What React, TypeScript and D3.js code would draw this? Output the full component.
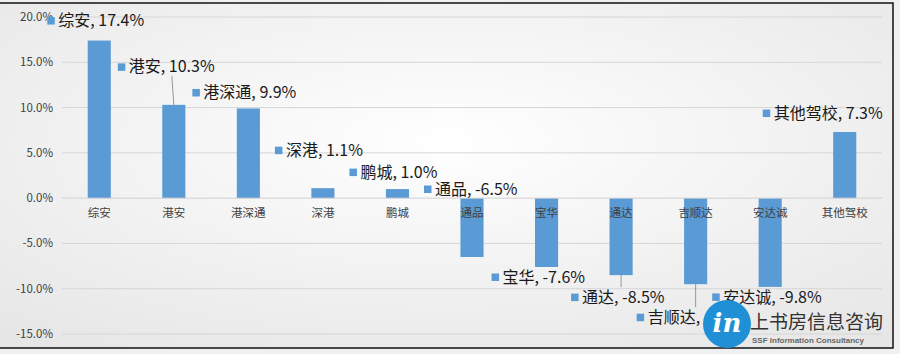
import React from "react";
import * as d3 from "d3";

const categories = ["综安", "港安", "港深通", "深港", "鹏城", "通品", "宝华", "通达", "吉顺达", "安达诚", "其他驾校"];
const values = [17.4, 10.3, 9.9, 1.1, 1.0, -6.5, -7.6, -8.5, -9.5, -9.8, 7.3];
const yTicks = [20, 15, 10, 5, 0, -5, -10, -15];

// label anchor offsets from the bar end (px), as Excel placed them by hand
const labelOffsets: [number, number][] = [
  [-52, -20], [-56, -38], [-56, -16], [-48, -38], [-48, -17], [-48, -68], [-55, 10], [-50, 22], [-59, 33], [-58, 10], [-82, -19],
];
// leader lines drawn from bar end towards the label
const leaders = [false, true, false, false, false, false, false, true, true, false, false];

const W = 900, H = 354;
const margin = { top: 17, right: 18, bottom: 20, left: 62 };

export default function App() {
  const x = d3.scaleBand<string>().domain(categories).range([margin.left, W - margin.right]).paddingInner(0.69).paddingOuter(0.345);
  const y = d3.scaleLinear().domain([-15, 20]).range([334, 17]);
  const fmt = (v: number) => `${v.toFixed(1)}%`;
  const blue = "#5B9BD5";
  const font = "'Noto Sans CJK SC', 'Noto Sans', sans-serif";

  return (
    <svg width={W} height={H} style={{ position: "absolute", left: 0, top: 0 }} fontFamily={font}>
      <defs>
        <radialGradient id="bg" cx="50%" cy="40%" r="75%">
          <stop offset="0%" stopColor="#ffffff" />
          <stop offset="100%" stopColor="#e6e6e6" />
        </radialGradient>
      </defs>
      <rect width={W} height={H} fill="#f0f0f0" />
      <rect x={-1} y={3} width={894} height={345} fill="url(#bg)" stroke="#111" strokeWidth={1.5} />

      {yTicks.map(t => (
        <g key={t}>
          {t !== 0 && <line x1={margin.left} x2={W - margin.right} y1={y(t)} y2={y(t)} stroke="#d6d6d6" />}
          <text x={53} y={y(t)} dy="0.35em" textAnchor="end" fontSize={11.5} fill="#404040">{fmt(t)}</text>
        </g>
      ))}

      {categories.map((c, i) => {
        const v = values[i];
        return (
          <rect key={c} x={x(c)} width={x.bandwidth()} y={y(Math.max(0, v))} height={Math.abs(y(v) - y(0))} fill={blue} />
        );
      })}
      <line x1={margin.left} x2={W - margin.right} y1={y(0)} y2={y(0)} stroke="#d0d0d0" />

      {categories.map(c => (
        <text key={c} x={(x(c) as number) + x.bandwidth() / 2} y={y(0) + 19} textAnchor="middle" fontSize={11.5} fill="#404040">{c}</text>
      ))}

      {categories.map((c, i) => {
        const v = values[i];
        const cx = (x(c) as number) + x.bandwidth() / 2;
        const [dx, dy] = labelOffsets[i];
        const lx = cx + dx, ly = y(v) + dy;
        return (
          <g key={c}>
            {leaders[i] && (
              <line x1={v > 0 ? cx - 2 : cx} x2={cx} y1={v > 0 ? ly + 9 : ly - 10} y2={y(v)} stroke="#7f7f7f" strokeWidth={0.8} />
            )}
            <rect x={lx} y={ly - 3.5} width={7.5} height={7.5} fill={blue} />
            <text x={lx + 11} y={ly} dy="0.35em" fontSize={16} fill="#1a1a1a">{`${c}, ${fmt(v)}`}</text>
          </g>
        );
      })}

      <g>
        <circle cx={727} cy={324} r={24} fill="#1f8fd6" />
        <text x={727} y={332} textAnchor="middle" fontSize={26} fontStyle="italic" fontWeight="bold" fill="#fff" fontFamily="'DejaVu Serif', serif">in</text>
        <text x={750} y={329} fontSize={19} fill="#333">上书房信息咨询</text>
        <text x={752} y={343} fontSize={8} fill="#666" fontWeight="bold" fontFamily="'Liberation Sans', sans-serif">SSF Information Consultancy</text>
      </g>
    </svg>
  );
}
